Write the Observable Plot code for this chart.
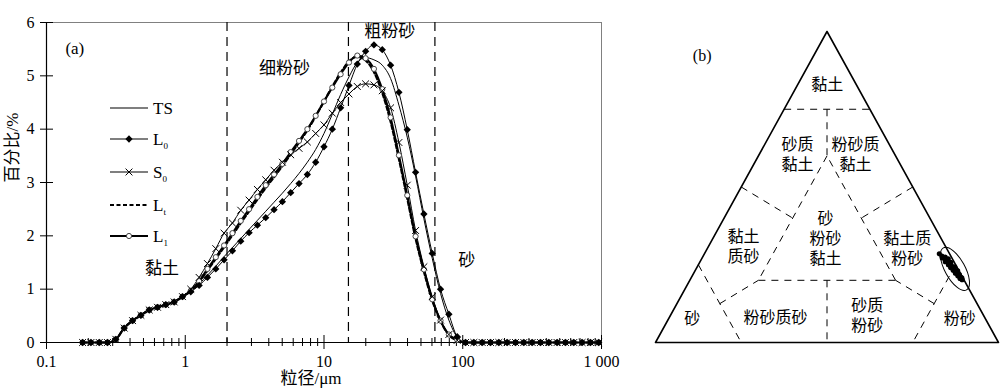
<!DOCTYPE html>
<html><head><meta charset="utf-8">
<script src="https://cdn.jsdelivr.net/npm/d3@7"></script>
<script src="https://cdn.jsdelivr.net/npm/@observablehq/plot@0.6"></script>
<style>
html,body{margin:0;padding:0;background:#fff;}
#wrap{position:relative;width:1000px;height:392px;overflow:hidden;}
#wrap svg{position:absolute;top:0;}
</style></head><body><div id="wrap"></div>
<script>
// ---------- Panel (a) data ----------
const sizeUm = [0.182,0.209,0.240,0.275,0.316,0.363,0.417,0.479,0.550,0.631,0.724,0.832,0.955,
  1.096,1.259,1.445,1.660,1.905,2.188,2.512,2.884,3.311,3.802,4.365,5.012,5.754,6.607,7.586,8.710,
  10.00,11.48,13.18,15.14,17.38,19.95,22.91,26.30,30.20,34.67,39.81,45.71,52.48,60.26,69.18,79.43,91.20,
  104.7,120.2,138.0,158.5,182.0,208.9,239.9,275.4,316.2,363.1,416.9,478.6,549.5,631.0,724.4,831.8,955.0];
const TS = [0,0,0,0,0.06,0.27,0.41,0.51,0.61,0.66,0.71,0.76,0.86,
  0.96,1.10,1.26,1.43,1.61,1.78,1.95,2.12,2.29,2.46,2.63,2.80,2.98,3.17,3.38,3.62,3.92,4.28,4.65,4.98,5.25,5.34,5.30,5.20,4.95,4.45,3.85,3.12,2.32,1.58,0.92,0.42,0.10,
  0,0,0,0,0,0,0,0,0,0,0,0,0,0,0,0,0];
const L0 = [0,0,0,0,0.06,0.27,0.41,0.51,0.61,0.66,0.71,0.76,0.86,
  0.95,1.07,1.22,1.38,1.55,1.72,1.90,2.06,2.20,2.34,2.49,2.64,2.81,2.98,3.15,3.38,3.67,4.00,4.40,4.82,5.22,5.46,5.58,5.49,5.20,4.69,3.99,3.19,2.41,1.67,1.00,0.53,0.11,
  0,0,0,0,0,0,0,0,0,0,0,0,0,0,0,0,0];
const S0 = [0,0,0,0,0.06,0.27,0.41,0.51,0.61,0.66,0.71,0.76,0.86,
  1.00,1.22,1.48,1.76,2.05,2.24,2.48,2.67,2.87,3.05,3.23,3.38,3.52,3.64,3.76,3.92,4.08,4.30,4.50,4.66,4.80,4.85,4.83,4.72,4.40,3.75,2.95,2.10,1.42,0.86,0.42,0.15,0.04,
  0,0,0,0,0,0,0,0,0,0,0,0,0,0,0,0,0];
const Lt = [0,0,0,0,0.06,0.27,0.41,0.51,0.61,0.66,0.71,0.76,0.86,
  0.96,1.13,1.35,1.57,1.79,2.01,2.24,2.46,2.68,2.90,3.10,3.31,3.53,3.75,3.98,4.24,4.52,4.80,5.06,5.27,5.36,5.29,5.07,4.68,4.14,3.44,2.70,1.95,1.33,0.79,0.40,0.14,0.04,
  0,0,0,0,0,0,0,0,0,0,0,0,0,0,0,0,0];
const L1 = [0,0,0,0,0.06,0.27,0.41,0.51,0.61,0.66,0.71,0.76,0.86,
  0.97,1.15,1.38,1.60,1.82,2.05,2.28,2.50,2.73,2.95,3.15,3.35,3.57,3.78,4.00,4.25,4.52,4.78,5.03,5.25,5.38,5.33,5.13,4.75,4.22,3.51,2.76,1.99,1.37,0.81,0.41,0.15,0.05,
  0,0,0,0,0,0,0,0,0,0,0,0,0,0,0,0,0];
const classBounds = [2, 15, 63];
const xMajorTicks = [0.1, 1, 10, 100, 1000];
const xMajorLabels = ["0.1", "1", "10", "100", "1 000"];
const xMinorTicks = [0.2,0.3,0.4,0.5,0.6,0.7,0.8,0.9,2,3,4,5,6,7,8,9,20,30,40,50,60,70,80,90,200,300,400,500,600,700,800,900];
const yTicks = [0,1,2,3,4,5,6];
const annoText = ["(a)", "细粉砂", "粗粉砂", "黏土", "砂"];
const annoX = [0.16, 5.2, 29.8, 0.68, 107];
const annoY = [5.52, 5.13, 5.83, 1.39, 1.54];
const legendNames = [["TS",""],["L","0"],["S","0"],["L","t"],["L","1"]];
const xTitle = "粒径/μm";
const yTitle = "百分比/%";

// ---------- Panel (b) data (clay, sand, silt in %) ----------
const sampleClay = [28.5,27.8,27.2,26.6,26.0,25.5,25.0,24.6,24.1,23.7,23.2,22.8,22.3,21.9,21.5,21.0,20.6,20.2,26.9,25.8,24.3,23.0,21.8,20.8,27.5,24.8,22.5,21.2];
const sampleSand = [3.0,2.6,2.8,2.2,2.5,1.8,2.1,1.5,1.9,1.3,1.6,1.0,1.4,0.9,1.1,0.7,0.9,0.5,1.2,1.0,0.6,0.4,0.5,0.3,1.8,1.4,1.0,0.6];
// triangle vertices: clay apex, sand left, silt right
const triClay = [100, 0, 0, 100];
const triSilt = [0, 0, 100, 0];
// class boundaries (dashed) as [clay1, silt1, clay2, silt2]
const boundClay1 = [75, 75, 60, 20, 20, 50, 50, 25, 12.5, 25, 12.5, 20];
const boundSilt1 = [0, 12.5, 20, 20, 60, 0, 50, 0, 12.5, 75, 75, 40];
const boundClay2 = [75, 60, 20, 20, 60, 40, 40, 0, 20, 0, 20, 0];
const boundSilt2 = [25, 20, 20, 60, 20, 20, 40, 25, 20, 75, 60, 50];
const regionText = ["黏土","砂质\n黏土","粉砂质\n黏土","黏土\n质砂","砂\n粉砂\n黏土","黏土质\n粉砂","砂","粉砂质砂","砂质\n粉砂","粉砂","(b)"];
const regionClay = [83.1,60.7,60.7,31.1,33.8,30.5,8.0,8.3,9.1,8.0,92.7];
const regionSilt = [8.5,11.05,27.95,10.1,32.66,58.15,6.7,30.85,57.15,84.7,-32.75];
const ellipseCenter = {clay: 23.5, silt: 75.7};

const FONT = "'Liberation Serif','Noto Sans CJK SC',serif";
const wrap = document.getElementById("wrap");

// ---------- Build panel (a) ----------
const seriesArr = [
  {name:"TS", v:TS}, {name:"L0", v:L0}, {name:"S0", v:S0}, {name:"Lt", v:Lt}, {name:"L1", v:L1}
];
const rows = {};
for (const s of seriesArr) rows[s.name] = sizeUm.map((x,i)=>({x, y:s.v[i]}));

const plotA = Plot.plot({
  width: 620, height: 392,
  marginLeft: 46, marginRight: 19, marginTop: 22, marginBottom: 50,
  style: {fontFamily: FONT, fontSize: "16px", color: "#000", background: "transparent"},
  x: {type: "log", domain: [0.1, 1000]},
  y: {domain: [0, 6]},
  marks: [
    Plot.frame({stroke: "#808080", strokeWidth: 1}),
    Plot.ruleX(classBounds, {stroke: "#000", strokeWidth: 1.2, strokeDasharray: "9,6"}),
    Plot.ruleY([0], {stroke: "#000", strokeWidth: 1.2}),
    Plot.ruleX([0.1], {stroke: "#000", strokeWidth: 1.2}),
    Plot.axisY({ticks: yTicks, tickSize: 6, tickPadding: 6, label: null, fontSize: 16, tickFormat: d => String(d)}),
    Plot.axisY({ticks: yTicks, tickSize: 7, text: null, label: null, dx: 7}),
    Plot.axisX({ticks: xMajorTicks, tickSize: 7, tickPadding: 6, label: null, fontSize: 16,
      tickFormat: d => xMajorLabels[xMajorTicks.indexOf(d)]}),
    Plot.axisX({ticks: xMajorTicks, tickSize: 7, text: null, label: null, dy: -7}),
    Plot.axisX({ticks: xMinorTicks, tickSize: 4, text: null, label: null}),
    Plot.axisX({ticks: xMinorTicks, tickSize: 4, text: null, label: null, dy: -4}),
    Plot.line(rows.TS, {x: "x", y: "y", stroke: "#000", strokeWidth: 1, curve: "monotone-x"}),
    Plot.line(rows.S0, {x: "x", y: "y", stroke: "#000", strokeWidth: 1, curve: "monotone-x"}),
    Plot.line(rows.Lt, {x: "x", y: "y", stroke: "#000", strokeWidth: 2.2, strokeDasharray: "4,2.5", curve: "monotone-x"}),
    Plot.line(rows.L1, {x: "x", y: "y", stroke: "#000", strokeWidth: 2, curve: "monotone-x"}),
    Plot.line(rows.L0, {x: "x", y: "y", stroke: "#000", strokeWidth: 1, curve: "monotone-x"}),
    Plot.dot(rows.L1, {x: "x", y: "y", r: 2.6, fill: "#fff", stroke: "#444", strokeWidth: 1}),
    Plot.dot(rows.S0, {x: "x", y: "y", symbol: "times", r: 3.2, stroke: "#000", strokeWidth: 1}),
    Plot.dot(rows.L0, {x: "x", y: "y", symbol: "diamond2", r: 3.3, fill: "#000", stroke: "none"}),
    Plot.text(annoText, {x: (d,i)=>annoX[i], y: (d,i)=>annoY[i], text: d=>d, fontSize: 17, fill: "#000"}),
    Plot.text([xTitle], {frameAnchor: "bottom", dy: 41, dx: -13, text: d=>d, fontSize: 17}),
    Plot.text([yTitle], {frameAnchor: "left", rotate: -90, dx: -34, text: d=>d, fontSize: 17})
  ]
});
plotA.style.left = "0px";
wrap.appendChild(plotA);

// legend (plain SVG)
const leg = d3.create("svg").attr("width", 220).attr("height", 260)
  .style("left", "0px").style("font-family", FONT);
const legY = [108, 139, 172, 205, 236];
legendNames.forEach((nm, i) => {
  const y = legY[i];
  const g = leg.append("g");
  const line = g.append("line").attr("x1", 110).attr("x2", 148).attr("y1", y).attr("y2", y).attr("stroke", "#000");
  if (i === 3) line.attr("stroke-width", 2.2).attr("stroke-dasharray", "4,2.5");
  else if (i === 4) line.attr("stroke-width", 2);
  else line.attr("stroke-width", 1.2);
  if (i === 1) g.append("path").attr("d", d3.symbol(d3.symbolDiamond2, 34)()).attr("transform", `translate(129,${y})`).attr("fill", "#000");
  if (i === 2) g.append("path").attr("d", d3.symbol(d3.symbolTimes, 32)()).attr("transform", `translate(129,${y})`).attr("stroke", "#000").attr("fill", "none");
  if (i === 4) g.append("circle").attr("cx", 129).attr("cy", y).attr("r", 2.6).attr("fill", "#fff").attr("stroke", "#444");
  const t = g.append("text").attr("x", 153).attr("y", y + 6).attr("font-size", 17).text(nm[0]);
  if (nm[1]) t.append("tspan").attr("font-size", 9).attr("dy", 4).text(nm[1]);
});
wrap.appendChild(leg.node());

// ---------- Build panel (b) ----------
const tx = (clay, silt) => silt / 100 + clay / 200;
const ty = (clay) => clay / 100;
const triPts = triClay.map((c,i)=>({x: tx(c, triSilt[i]), y: ty(c)}));
const bounds = boundClay1.map((c,i)=>({
  x1: tx(c, boundSilt1[i]), y1: ty(c), x2: tx(boundClay2[i], boundSilt2[i]), y2: ty(boundClay2[i])
}));
const samples = sampleClay.map((c,i)=>({x: tx(c, 100 - c - sampleSand[i]), y: ty(c)}));
const regions = regionText.map((t,i)=>({t, x: tx(regionClay[i], regionSilt[i]), y: ty(regionClay[i])}));

function ellipseMark(index, scales) {
  const cx = scales.x(tx(ellipseCenter.clay, ellipseCenter.silt));
  const cy = scales.y(ty(ellipseCenter.clay));
  const ax = scales.x(tx(100, 0)), ay = scales.y(ty(100));
  const bx = scales.x(tx(0, 100)), by = scales.y(ty(0));
  const ang = Math.atan2(by - ay, bx - ax) * 180 / Math.PI;
  const el = document.createElementNS("http://www.w3.org/2000/svg", "ellipse");
  el.setAttribute("cx", cx); el.setAttribute("cy", cy);
  el.setAttribute("rx", 24); el.setAttribute("ry", 10);
  el.setAttribute("transform", `rotate(${ang},${cx},${cy})`);
  el.setAttribute("fill", "none"); el.setAttribute("stroke", "#000"); el.setAttribute("stroke-width", 1);
  return el;
}

const plotB = Plot.plot({
  width: 360, height: 392,
  marginLeft: 15, marginRight: 2, marginTop: 31, marginBottom: 50,
  style: {fontFamily: FONT, fontSize: "16px", color: "#000", background: "transparent", overflow: "visible"},
  x: {domain: [0, 1], axis: null},
  y: {domain: [0, 1], axis: null},
  marks: [
    Plot.link(bounds, {x1: "x1", y1: "y1", x2: "x2", y2: "y2", stroke: "#000", strokeWidth: 1, strokeDasharray: "7,6"}),
    Plot.line(triPts, {x: "x", y: "y", stroke: "#000", strokeWidth: 1.6}),
    Plot.dot(samples, {x: "x", y: "y", r: 2.6, fill: "#000"}),
    ellipseMark,
    Plot.text(regions, {x: "x", y: "y", text: "t", fontSize: 16, lineHeight: 1.25, fill: "#000"})
  ]
});
plotB.style.left = "640px";
wrap.appendChild(plotB);
</script></body></html>
